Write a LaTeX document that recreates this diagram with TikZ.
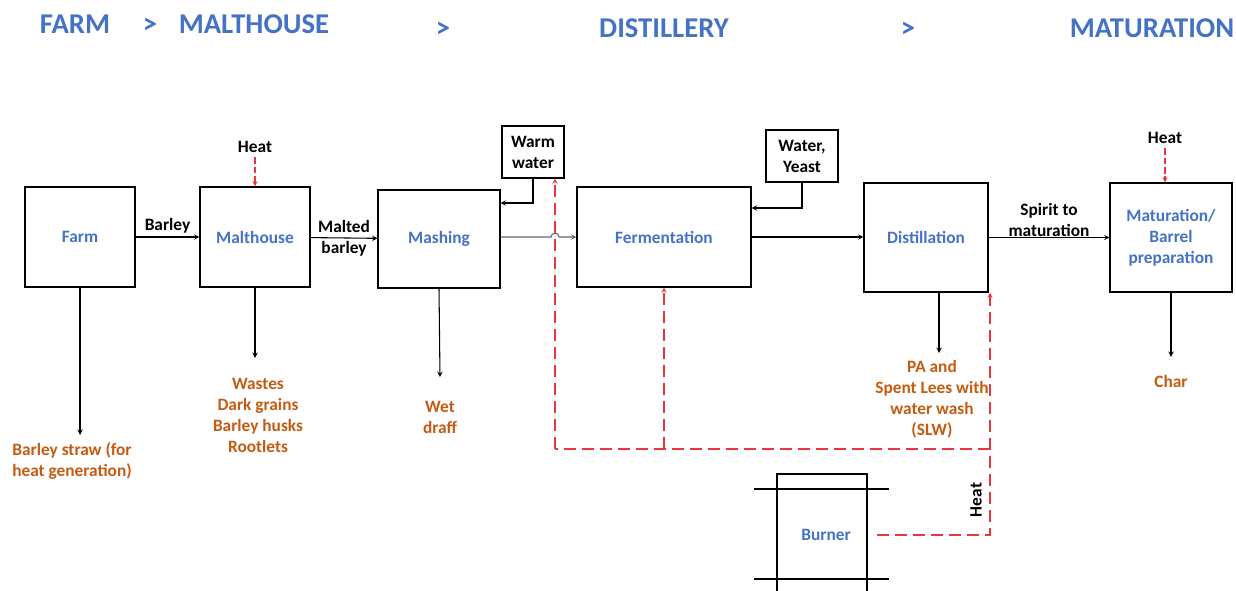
\documentclass[tikz,border=0pt]{standalone}
\usepackage{fontspec}
\setmainfont{Carlito}
\usepackage{xcolor}
\usetikzlibrary{arrows,calc,positioning}
\definecolor{stageblue}{HTML}{4472C4}
\definecolor{wasteorange}{HTML}{C55A11}
\definecolor{heatred}{HTML}{E8363C}
\newcommand{\bodyfont}{\fontsize{13}{15.75}\bfseries\selectfont}
\tikzset{%
	block/.style    = {draw, rectangle, thick, font=\bodyfont\color{stageblue}, text centered},
	supply/.style   = {draw, rectangle, thick, font=\bodyfont, align=center, minimum width=46.5pt, minimum height=39pt, inner sep=2pt},
	waste/.style    = {font=\bodyfont\color{wasteorange}, align=center},
	label/.style    = {font=\bodyfont, align=center},
	stage/.style    = {font=\fontsize{21.5}{25}\bfseries\selectfont\color{stageblue}},
	flow/.style     = {thick, ->, >=stealth},
	heat/.style     = {thick, heatred, dash pattern=on 9pt off 4.5pt, ->, >=stealth},
	waypoint/.style = {coordinate},
}
\begin{document}
\begin{tikzpicture}[x=0.75pt, y=-0.75pt]
	\useasboundingbox (0,0) rectangle (1236,591);
	% stages
	\node[stage] (hfarm) at (75,24) {FARM};
	\node[stage] (g1) at (150,26) {>};
	\node[stage] (hmalt) at (254,24) {MALTHOUSE};
	\node[stage] (g2) at (443,30) {>};
	\node[stage] (hdist) at (664,28) {DISTILLERY};
	\node[stage] (g3) at (908,30) {>};
	\node[stage] (hmat) at (1152,28) {MATURATION};
	
	% process blocks
	\node[block, minimum width=82.5pt, minimum height=75pt] (farm) at (80,237) {Farm};
	\node[block, minimum width=82.5pt, minimum height=75pt] (malt) at (255,237) {Malthouse};
	\node[block, minimum width=91.5pt, minimum height=73.5pt] (mash) at (439,239) {Mashing};
	\node[supply] (warm) at (533,152) {Warm\\water};
	\node[block, minimum width=130.5pt, minimum height=75pt] (ferm) at (664,237) {Fermentation};
	\node[supply, minimum width=54pt] (yeast) at (802,156) {Water,\\Yeast};
	\node[block, minimum width=93pt, minimum height=81.75pt] (dist) at (926,237.5) {Distillation};
	\node[block, align=center, minimum width=91.5pt, minimum height=81.75pt] (mat) at (1171,237.5) {Maturation/\\Barrel\\preparation};
	\node[block, draw=none] (burner) at (826,535) {Burner};
	\draw[thick] (777,600) |- (867,474) -- (867,600);
	\draw[thick] (754,489) -- (889,489);
	\draw[thick] (754,579) -- (889,579);
	
	% wastes and products
	\node[waste] (straw) at (72,461) {Barley straw (for\\heat generation)};
	\node[waste] (wastes) at (258,415) {Wastes\\Dark grains\\Barley husks\\Rootlets};
	\node[waste] (draff) at (440,417) {Wet\\draff};
	\node[waste] (slw) at (932,399) {PA and\\Spent Lees with\\water wash\\(SLW)};
	\node[waste] (char) at (1171,381) {Char};
	
	% heat inputs
	\node[label] (hmalth) at (255,147) {Heat};
	\node[label] (hmath) at (1165,138) {Heat};
	\node[label, rotate=90] (hburn) at (976,500) {Heat};
	\node[waypoint] (wp1) at (990,449) {};
	\node[waypoint] (wp2) at (555,449) {};
	\node[waypoint] (wp3) at (664,449) {};
	\node[waypoint] (wp4) at (990,535) {};
	
	\draw[flow] (farm) -- node[label, above, yshift=-1pt] {Barley} (malt);
	\draw[flow] (malt) -- node[label] {Malted\\barley} (mash);
	\draw[flow, gray!80!black] (mash.east |- 0,237) -- (551,237) arc (180:360:4) -- (ferm.west);
	\draw[flow] (warm.south) |- (mash.east |- 0,203);
	\draw[flow] (yeast.south) |- (ferm.east |- 0,208);
	\draw[flow] (ferm.east) -- (dist.west |- ferm.east);
	\draw[flow] (dist) -- node[label, above, yshift=-3pt] {Spirit to\\maturation} (mat);
	
	\draw[flow] (farm.south) -- (80,435);
	\draw[flow] (malt.south) -- (255,358);
	\draw[flow] (mash.south) -- (440,377);
	\draw[flow] (dist.south -| 939,0) -- (939,353);
	\draw[flow] (mat.south) -- (1171,357);
	
	\draw[heat, dash pattern=on 5pt off 2pt] (hmalth) -- (malt.north);
	\draw[heat, dash pattern=on 5pt off 2pt] (hmath) -- (mat.north -| 1165,0);
	\draw[heat] (877,535) -- (wp4) -- (dist.south -| wp1);
	\draw[heat, -] (wp1) -- (wp2);
	\draw[heat] (wp2) -- (warm.south -| wp2);
	\draw[heat] (wp3) -- (ferm.south);
\end{tikzpicture}
\end{document}
